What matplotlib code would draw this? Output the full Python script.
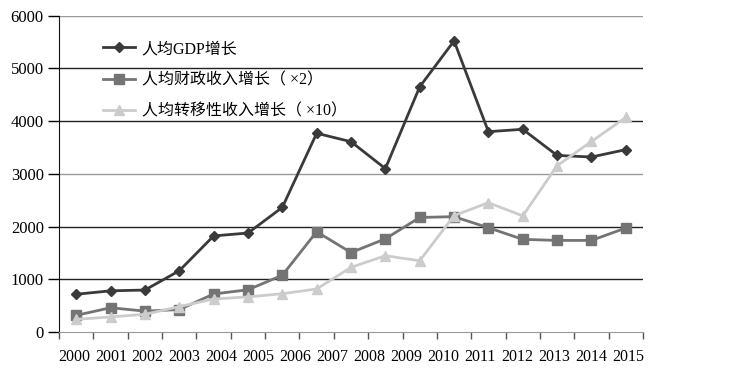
import numpy as np
import matplotlib
matplotlib.use("Agg")
import matplotlib.pyplot as plt
import matplotlib.transforms as mtransforms

plt.rcParams['font.family'] = ['Liberation Serif', 'Noto Sans CJK SC']

# the source chart has 17 points but only 16 year labels spread across them
years = [str(y) for y in range(2000, 2016)]
gdp = [720, 785, 800, 1165, 1825, 1880, 2365, 3770, 3610, 3100,
       4650, 5520, 3800, 3845, 3350, 3320, 3460]
fiscal = [320, 465, 400, 430, 725, 805, 1080, 1905, 1510, 1770,
          2175, 2190, 1980, 1760, 1740, 1740, 1975]
transfer = [245, 290, 340, 485, 630, 670, 730, 820, 1230, 1450,
            1355, 2210, 2455, 2205, 3155, 3615, 4070]
labels = ['人均GDP增长', '人均财政收入增长（ ×2）', '人均转移性收入增长（ ×10）']

x = np.arange(len(gdp))

fig = plt.figure(figsize=(7.29, 3.70), dpi=100)
ax = fig.add_axes([0.081, 0.102, 0.801, 0.856])

ax.plot(x, gdp, color='#3a3a3a', lw=2, marker='D', ms=5.5, label=labels[0], zorder=3)
ax.plot(x, fiscal, color='#747474', lw=2, marker='s', ms=7, label=labels[1], zorder=4)
ax.plot(x, transfer, color='#cccccc', lw=2, marker='^', ms=7, label=labels[2], zorder=5)

ax.set_xlim(-0.5, len(gdp) - 0.5)
ax.set_ylim(0, 6000)

yticks = [0, 1000, 2000, 3000, 4000, 5000, 6000]
grid_colors = ['#999999', '#222222', '#222222', '#999999', '#222222', '#222222', '#999999']
ax.set_yticks(yticks)
for y, c in zip(yticks[1:], grid_colors[1:]):
    ax.axhline(y, color=c, lw=1, zorder=1)
ax.tick_params(axis='y', length=8, width=1, pad=3, labelsize=12)
for t, c in zip(ax.yaxis.get_major_ticks(), grid_colors):
    t.tick1line.set_color(c)

ax.set_xticks(np.arange(-0.5, len(gdp)))
ax.set_xticklabels([])
ax.tick_params(axis='x', length=5, width=1, color='#555555')

# year labels evenly spread from first to last point
trans = mtransforms.blended_transform_factory(ax.transData, ax.transAxes)
for xp, yr in zip(np.linspace(-0.07, 16.06, len(years)), years):
    ax.text(xp, -0.052, yr, transform=trans, ha='center', va='top', fontsize=11.5)

for s in ['top', 'right']:
    ax.spines[s].set_visible(False)
ax.spines['left'].set_color('#111111')
ax.spines['bottom'].set_color('#999999')

ax.legend(loc='upper left', bbox_to_anchor=(0.065, 0.94), frameon=False,
          fontsize=11.5, handlelength=2.0, handletextpad=0.4, labelspacing=0.95,
          borderaxespad=0)

fig.savefig('out.png', dpi=100)
